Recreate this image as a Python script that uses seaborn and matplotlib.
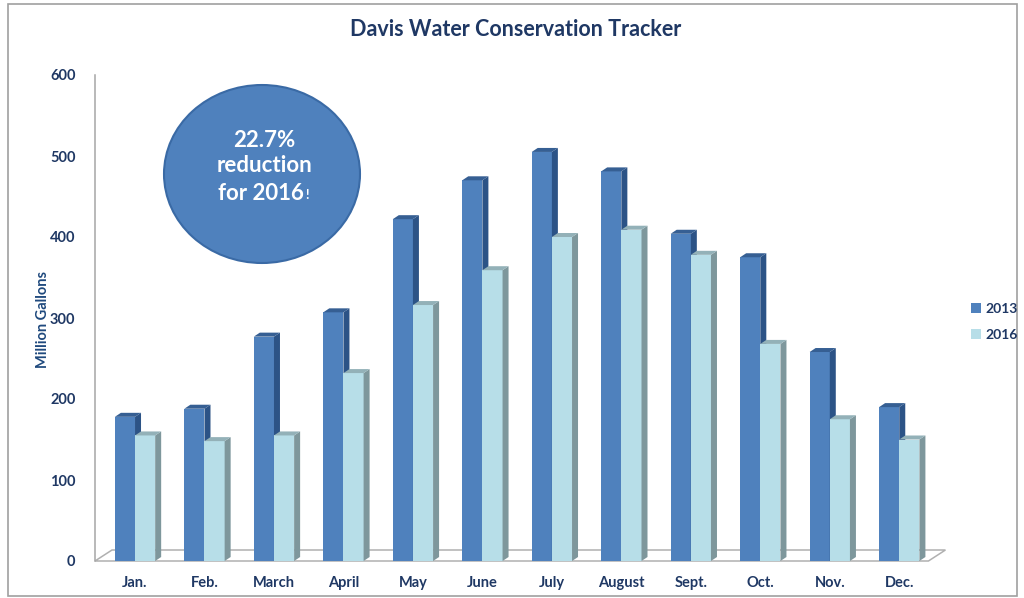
import matplotlib
matplotlib.use("Agg")
import matplotlib.pyplot as plt
from matplotlib.patches import Polygon, Ellipse, Rectangle, Patch
import seaborn as sns
import pandas as pd

months = ["Jan.", "Feb.", "March", "April", "May", "June", "July",
          "August", "Sept.", "Oct.", "Nov.", "Dec."]
vals_2013 = [178, 188, 277, 307, 422, 470, 505, 481, 404, 375, 258, 190]
vals_2016 = [155, 148, 155, 232, 316, 359, 400, 409, 378, 268, 175, 150]
years = ["2013", "2016"]
yticks = [0, 100, 200, 300, 400, 500, 600]

df = pd.DataFrame({
    "month": months * 2,
    "value": vals_2013 + vals_2016,
    "year": [years[0]] * len(months) + [years[1]] * len(months),
})

sns.set_style("white")
plt.rcParams["font.family"] = ["Lato", "DejaVu Sans"]

front = ["#4F81BD", "#B7DEE8"]
side = ["#2C5386", "#7E979C"]
top = ["#365F93", "#93B1B8"]
navy = "#1F3864"
textblue = "#1F497D"

fig = plt.figure(figsize=(10.24, 5.98), dpi=100)
W, H = 1024, 598
ax = fig.add_axes([95 / W, (H - 561) / H, 839 / W, 486 / H])

sns.barplot(data=df, x="month", y="value", hue="year", order=months,
            hue_order=years, palette=front, saturation=1, width=0.58,
            linewidth=0, legend=False, ax=ax)

ax.set_xlim(-0.576, 11.5)
ax.set_ylim(0, 600)

# pseudo-3D faces derived from the bar geometry
px_x = 839 / (11.5 + 0.576)
px_y = 486 / 600
dx = 6 / px_x
dy = 4 / px_y
for k, cont in enumerate(ax.containers):
    for p in cont:
        p.set_zorder(2 + k)
        x0, w, h = p.get_x(), p.get_width(), p.get_height()
        ax.add_patch(Polygon([(x0 + w, 0), (x0 + w, h), (x0 + w + dx, h + dy),
                              (x0 + w + dx, dy)], closed=True,
                             facecolor=side[k], edgecolor="none", zorder=2 + k))
        ax.add_patch(Polygon([(x0, h), (x0 + w, h), (x0 + w + dx, h + dy),
                              (x0 + dx, h + dy)], closed=True,
                             facecolor=top[k], edgecolor="none", zorder=2 + k))

# floor
fx0, fx1 = -0.576, 11.42
fdx, fdy = 17 / px_x, 11 / px_y
ax.add_patch(Polygon([(fx0, 0), (fx1, 0), (fx1 + fdx, fdy), (fx0 + fdx, fdy)],
                     closed=True, facecolor="none", edgecolor="#B0B0B0",
                     linewidth=1.1, zorder=1, clip_on=False))

for s in ["top", "right", "bottom"]:
    ax.spines[s].set_visible(False)
ax.spines["left"].set_color("#A6A6A6")
ax.spines["left"].set_linewidth(1.1)

ax.set_yticks(yticks)
ax.set_yticklabels([str(t) for t in yticks])
ax.tick_params(axis="y", direction="out", length=6, width=1, color="#A6A6A6",
               pad=8, labelsize=10.5, labelcolor=navy)
ax.tick_params(axis="x", length=0, pad=11, labelsize=10.5, labelcolor=navy)
for lab in ax.get_xticklabels() + ax.get_yticklabels():
    lab.set_fontweight("bold")
ax.set_xlabel("")
ax.set_ylabel("")

fig.text(43 / W, 1 - 320 / H, "Million Gallons", rotation=90, ha="center",
         va="center", fontsize=10.5, fontweight="bold", color=textblue)

fig.text(516 / W, 1 - 30 / H, "Davis Water Conservation Tracker", ha="center",
         va="center", fontsize=15.5, fontweight="bold", color=navy)

# callout ellipse
fig.patches.append(Ellipse((262 / W, 1 - 174 / H), 196 / W, 178 / H,
                           transform=fig.transFigure, facecolor="#4F81BD",
                           edgecolor="#3A6AA5", linewidth=1.5, zorder=5))
fig.text(264 / W, 1 - 140 / H, "22.7%", ha="center", va="center",
         fontsize=16, fontweight="bold", color="white", zorder=6)
fig.text(265 / W, 1 - 166 / H, "reduction", ha="center", va="center",
         fontsize=16, fontweight="bold", color="white", zorder=6)
fig.text(304 / W, 1 - 193 / H, "for 2016", ha="right", va="center",
         fontsize=16, fontweight="bold", color="white", zorder=6)
fig.text(305 / W, 1 - 195 / H, "!", ha="left", va="center",
         fontsize=9, fontweight="bold", color="white", zorder=6)

# legend
handles = [Patch(facecolor=front[i], edgecolor="none", label=years[i])
           for i in range(2)]
fig.legend(handles=handles, loc="center left",
           bbox_to_anchor=(971 / W, 1 - 322 / H), frameon=False,
           borderpad=0, borderaxespad=0,
           handlelength=0.7, handleheight=0.7, handletextpad=0.35,
           labelspacing=1.0, prop={"size": 10, "weight": "bold"},
           labelcolor=navy)

# chart border
fig.patches.append(Rectangle((8 / W, 2 / H), 1009 / W, 592 / H,
                             transform=fig.transFigure, facecolor="none",
                             edgecolor="#A0A0A0", linewidth=1.2))

fig.savefig("out.png", dpi=100)
